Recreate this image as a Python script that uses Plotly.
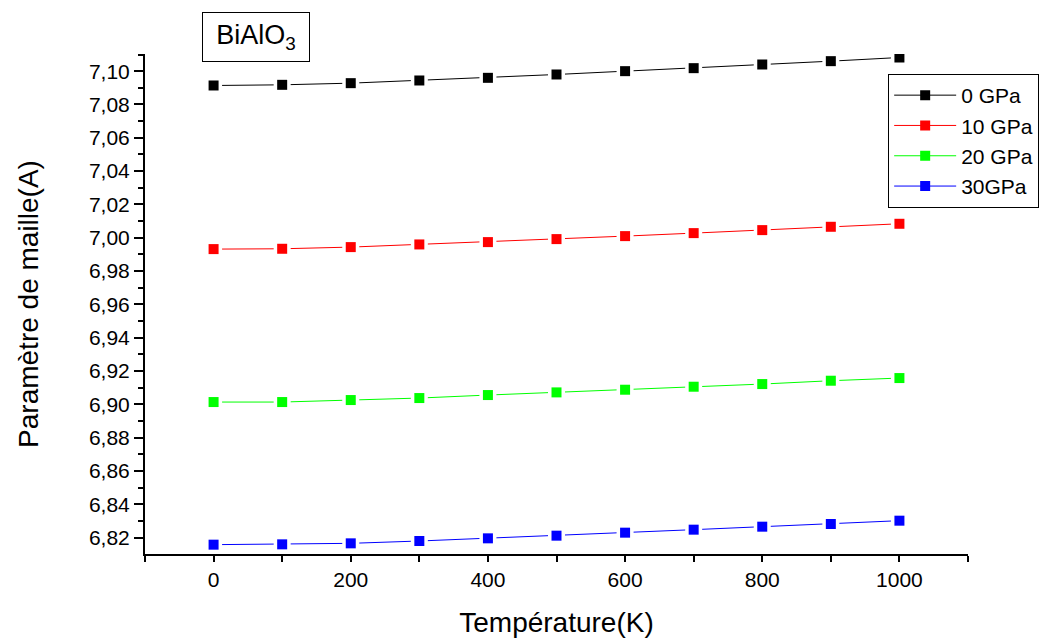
import plotly.graph_objects as go

temperature = [0, 100, 200, 300, 400, 500, 600, 700, 800, 900, 1000]
p0 = [7.0914, 7.0918, 7.0928, 7.0944, 7.0960, 7.0980, 7.1000, 7.1018, 7.1040, 7.1060, 7.1082]
p10 = [6.9932, 6.9934, 6.9944, 6.9960, 6.9974, 6.9992, 7.0010, 7.0028, 7.0046, 7.0066, 7.0084]
p20 = [6.9014, 6.9014, 6.9026, 6.9038, 6.9056, 6.9072, 6.9088, 6.9106, 6.9122, 6.9142, 6.9158]
p30 = [6.8158, 6.8160, 6.8166, 6.8180, 6.8196, 6.8212, 6.8230, 6.8248, 6.8266, 6.8282, 6.8302]

series_names = ["0 GPa", "10 GPa", "20 GPa", "30GPa"]
series_values = [p0, p10, p20, p30]
series_colors = ["#000000", "#FF0000", "#00FF00", "#0000FF"]

x_tickvals = [0, 200, 400, 600, 800, 1000]
y_tickvals = [6.82, 6.84, 6.86, 6.88, 6.90, 6.92, 6.94, 6.96, 6.98, 7.00, 7.02, 7.04, 7.06, 7.08, 7.10]
y_ticktext = [f"{v:.2f}".replace(".", ",") for v in y_tickvals]

FONT = "Arial, Liberation Sans, sans-serif"

fig = go.Figure()
for name, vals, col in zip(series_names, series_values, series_colors):
    fig.add_trace(go.Scatter(
        x=temperature, y=vals, mode="lines+markers", name=name,
        line=dict(color=col, width=1),
        marker=dict(symbol="square", size=10, color=col),
    ))
    fig.add_trace(go.Scatter(
        x=temperature, y=vals, mode="markers", showlegend=False, hoverinfo="skip",
        marker=dict(symbol="square", size=17, color="white"),
    ))
    fig.add_trace(go.Scatter(
        x=temperature, y=vals, mode="markers", showlegend=False,
        marker=dict(symbol="square", size=10, color=col),
    ))

fig.update_layout(
    width=1044, height=641,
    margin=dict(l=145, r=76, t=54, b=87, autoexpand=False),
    paper_bgcolor="white", plot_bgcolor="white",
    font=dict(family=FONT, color="black", size=21),
    legend=dict(
        x=0.903, y=0.96, xanchor="left", yanchor="top",
        bordercolor="black", borderwidth=1, bgcolor="white",
        font=dict(size=21), tracegroupgap=0, itemwidth=62,
    ),
    annotations=[dict(
        text="BiAlO<sub>3</sub>", xref="paper", yref="paper",
        x=0.1349, y=1.034, xanchor="center", yanchor="middle",
        showarrow=False, font=dict(size=27, family=FONT),
        bordercolor="black", borderwidth=1, width=104, height=46,
        bgcolor="white",
    )],
)

fig.update_xaxes(
    range=[-100, 1100], showgrid=False, zeroline=False, automargin=False,
    showline=True, linecolor="black", linewidth=2,
    ticks="outside", ticklen=6, tickwidth=1.5, tickcolor="black",
    tickvals=x_tickvals, tickfont=dict(size=21),
    minor=dict(ticks="outside", ticklen=6, tickwidth=1.5, tickcolor="black", dtick=100, tick0=0),
    title=dict(text="Température(K)", font=dict(size=28), standoff=22),
)
fig.update_yaxes(
    range=[6.8102, 7.1103], showgrid=False, zeroline=False, automargin=False,
    showline=True, linecolor="black", linewidth=2,
    ticks="outside", ticklen=9, tickwidth=1.5, tickcolor="black",
    tickvals=y_tickvals, ticktext=y_ticktext, tickfont=dict(size=21),
    minor=dict(ticks="outside", ticklen=5, tickwidth=1.5, tickcolor="black", dtick=0.01, tick0=6.81),
    title=dict(text="Paramètre de maille(A)", font=dict(size=28), standoff=42),
)

fig.write_html("out.html")
